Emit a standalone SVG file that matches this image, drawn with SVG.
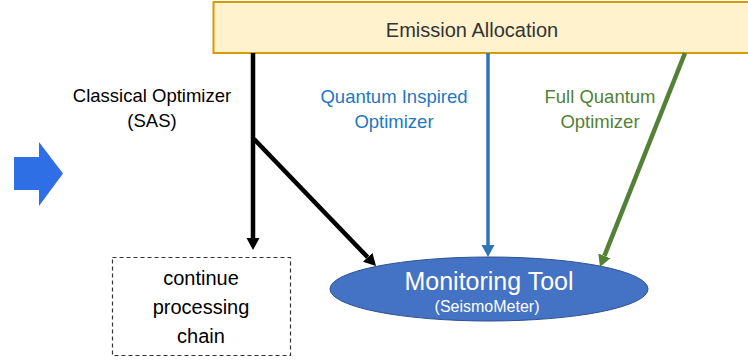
<svg xmlns="http://www.w3.org/2000/svg" width="748" height="361" viewBox="0 0 748 361">
<style>
text{font-family:"Liberation Sans",Arial,sans-serif;text-anchor:middle}
.conn{fill:none;stroke-linecap:butt}
</style>
<defs>
<marker id="ahBlack" markerUnits="userSpaceOnUse" markerWidth="14" markerHeight="16" refX="0" refY="7" orient="auto" viewBox="0 0 14 14"><path d="M0,0.5 L12,7 L0,13.5 z" fill="#000"/></marker>
<marker id="ahBlue" markerUnits="userSpaceOnUse" markerWidth="14" markerHeight="16" refX="0" refY="7" orient="auto" viewBox="0 0 14 14"><path d="M0,0.5 L12,7 L0,13.5 z" fill="#2E75B6"/></marker>
<marker id="ahGreen" markerUnits="userSpaceOnUse" markerWidth="14" markerHeight="16" refX="0" refY="7" orient="auto" viewBox="0 0 14 14"><path d="M0,0.5 L12,7 L0,13.5 z" fill="#538135"/></marker>
</defs>
<rect width="748" height="361" fill="#fff"/>
<g id="emission-allocation">
<rect x="213.5" y="2" width="540" height="51" fill="#FFF2CC" stroke="#D79B00" stroke-width="2"/>
<text x="472" y="37" font-size="20" fill="#333">Emission Allocation</text>
</g>
<g id="input-arrow">
<path d="M14,157 H39 V142 L63,173.5 L39,206 V190 H14 z" fill="#2F6FE6"/>
</g>
<g id="continue-chain">
<rect x="112.5" y="257.5" width="178" height="98" fill="none" stroke="#333" stroke-width="1.2" stroke-dasharray="4,3"/>
<text x="201" y="285" font-size="20" fill="#000">continue</text>
<text x="201" y="314" font-size="20" fill="#000">processing</text>
<text x="201" y="343" font-size="20" fill="#000">chain</text>
</g>
<g id="monitoring-tool">
<ellipse cx="489" cy="289" rx="159" ry="32" fill="#4472C4" stroke="#2F528F" stroke-width="1"/>
<text x="489" y="290" font-size="25" fill="#fff">Monitoring Tool</text>
<text x="487" y="312" font-size="16" fill="#fff">(SeismoMeter)</text>
</g>
<g id="labels">
<text x="152" y="102" font-size="18.5" fill="#000">Classical Optimizer</text>
<text x="152" y="127" font-size="18.5" fill="#000">(SAS)</text>
<text x="394" y="103" font-size="18.5" fill="#1F77C0">Quantum Inspired</text>
<text x="394" y="128" font-size="18.5" fill="#1F77C0">Optimizer</text>
<text x="600" y="103" font-size="18.5" fill="#538135">Full Quantum</text>
<text x="600" y="128" font-size="18.5" fill="#538135">Optimizer</text>
</g>
<g id="connectors">
<path class="conn" d="M253,53 V238" stroke="#000" stroke-width="4.5" marker-end="url(#ahBlack)"/>
<path class="conn" d="M254,139 L367.7,257.3" stroke="#000" stroke-width="4.5" marker-end="url(#ahBlack)"/>
<path class="conn" d="M488,53 V245" stroke="#2E75B6" stroke-width="3.5" marker-end="url(#ahBlue)"/>
<path class="conn" d="M685,53 L604.4,255.9" stroke="#538135" stroke-width="4.5" marker-end="url(#ahGreen)"/>
</g>
</svg>
